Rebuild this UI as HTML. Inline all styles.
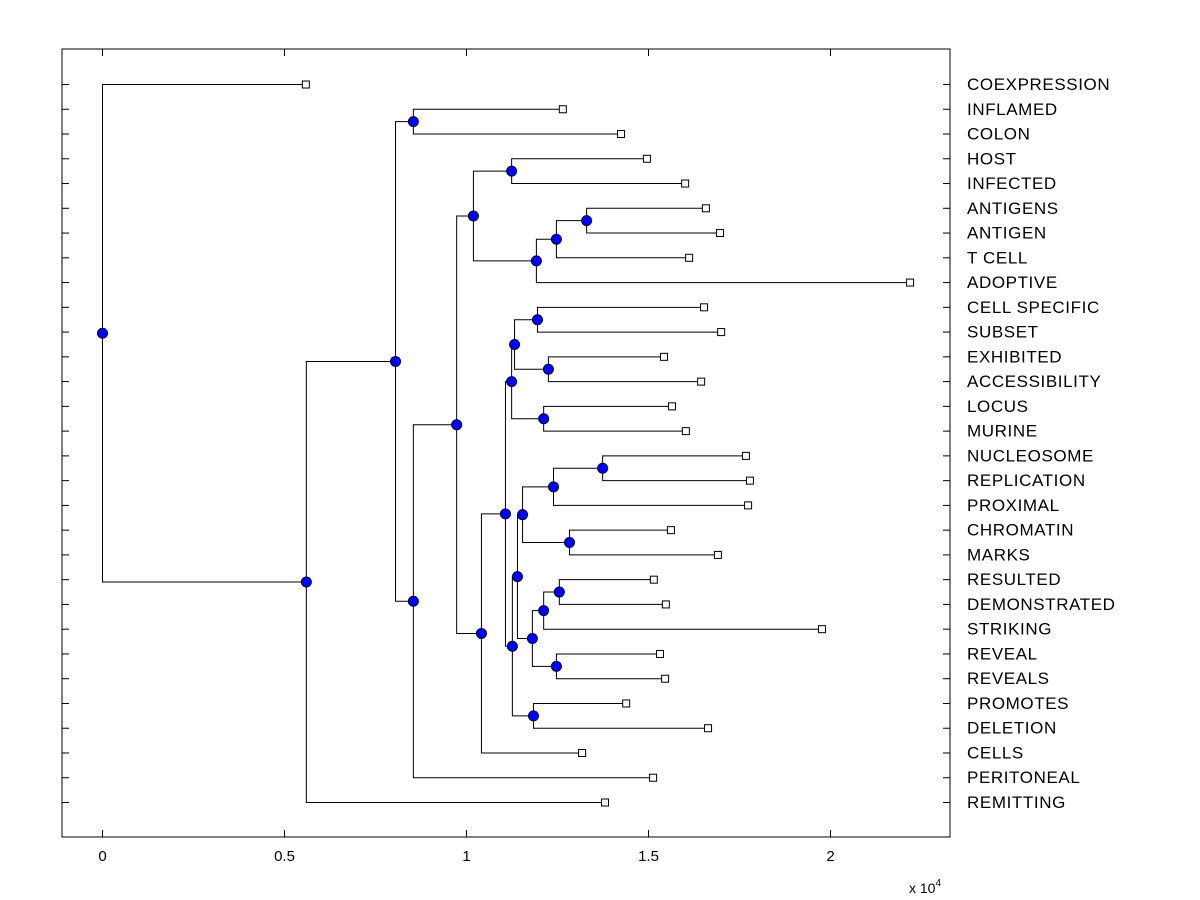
<!DOCTYPE html>
<html><head><meta charset="utf-8"><style>
body{margin:0;background:#fff;}
svg{display:block;font-family:"Liberation Sans",Arial,sans-serif;}
</style></head><body>
<svg id="chart" width="1200" height="900" viewBox="0 0 1200 900"></svg>
<script>
const leaves=["COEXPRESSION","INFLAMED","COLON","HOST","INFECTED","ANTIGENS","ANTIGEN","T CELL","ADOPTIVE","CELL SPECIFIC","SUBSET","EXHIBITED","ACCESSIBILITY","LOCUS","MURINE","NUCLEOSOME","REPLICATION","PROXIMAL","CHROMATIN","MARKS","RESULTED","DEMONSTRATED","STRIKING","REVEAL","REVEALS","PROMOTES","DELETION","CELLS","PERITONEAL","REMITTING"];
const leafValues=[0.560,1.266,1.426,1.497,1.602,1.659,1.698,1.613,2.220,1.654,1.701,1.544,1.646,1.566,1.604,1.769,1.780,1.775,1.563,1.692,1.516,1.549,1.978,1.533,1.547,1.440,1.665,1.319,1.514,1.382];
const mergeLeft=["L1","L3","L5","N3","N4","N2","L9","L11","N7","L13","N9","L15","N12","L18","N13","L20","N16","L23","N17","N15","L25","N20","N11","N23","N6","N25","N1","N27","L0"];
const mergeRight=["L2","L4","L6","L7","L8","N5","L10","L12","N8","L14","N10","L16","L17","L19","N14","L21","L22","L24","N18","N19","L26","N21","N22","L27","N24","L28","N26","L29","N28"];
const mergeHeights=[0.854,1.124,1.330,1.247,1.192,1.019,1.195,1.225,1.132,1.212,1.124,1.374,1.239,1.283,1.154,1.255,1.212,1.247,1.181,1.140,1.184,1.126,1.107,1.041,0.973,0.854,0.805,0.560,0.0];
const xTicks=[0,0.5,1,1.5,2];
const xTickLabels=["0","0.5","1","1.5","2"];

const svg=document.getElementById('chart');
const NS="http://www.w3.org/2000/svg";
const L=62,R=950,T=49,B=837;
const xs=v=>102+v*364;
const ys=i=>84+i*(802-84)/(leaves.length-1);
function el(t,a,p){const e=document.createElementNS(NS,t);for(const k in a)e.setAttribute(k,a[k]);(p||svg).appendChild(e);return e;}

const frame=el('rect',{x:L,y:T,width:R-L,height:B-T,fill:'#fff',stroke:'#000','stroke-width':1});



leaves.forEach((n,i)=>{
  const y=ys(i)+0.5;
  const t1=el('line',{x1:L,x2:L+7,y1:y,y2:y,stroke:'#000'});
  
  
  const t2=el('line',{x1:R-7,x2:R,y1:y,y2:y,stroke:'#000'});
  
  
  const tx=el('text',{x:967,y:ys(i)+6,'font-size':17,'letter-spacing':0.6,fill:'#000'});
  tx.textContent=n;
  
  
});
xTicks.forEach((v,i)=>{
  const x=Math.round(xs(v))+0.5;
  const a=el('line',{x1:x,x2:x,y1:B,y2:B-7,stroke:'#000'});
  
  
  const b=el('line',{x1:x,x2:x,y1:T,y2:T+7,stroke:'#000'});
  
  
  const t=el('text',{x:x,y:B+24,'font-size':15,'text-anchor':'middle'});
  t.textContent=xTickLabels[i];
  
  
});
const ex=el('text',{x:909,y:893,'font-size':14});
ex.innerHTML='x 10<tspan dy="-7" font-size="10">4</tspan>';



const pos={};
leaves.forEach((n,i)=>{pos['L'+i]={x:xs(leafValues[i]),y:ys(i)};});
const linesG=el('g',{});
const markG=el('g',{});
mergeHeights.forEach((h,k)=>{
  const a=pos[mergeLeft[k]],b=pos[mergeRight[k]];
  const x=xs(h),y=(a.y+b.y)/2;
  pos['N'+(k+1)]={x:x,y:y};
  const p=el('path',{d:`M${a.x},${a.y+0.5}H${x+0.5}V${b.y+0.5}H${b.x}`,fill:'none',stroke:'#000','stroke-width':1},linesG);
  
  
});
leaves.forEach((n,i)=>{
  const q=pos['L'+i];
  const r=el('rect',{x:q.x-3.5,y:q.y-3,width:7,height:7,fill:'#fff',stroke:'#000'},markG);
  
  
});
mergeHeights.forEach((h,k)=>{
  const q=pos['N'+(k+1)];
  const c=el('circle',{cx:q.x+0.5,cy:q.y+0.5,r:5,fill:'#0000ff',stroke:'#000033','stroke-width':1},markG);
  
  
});
</script>
</body></html>
